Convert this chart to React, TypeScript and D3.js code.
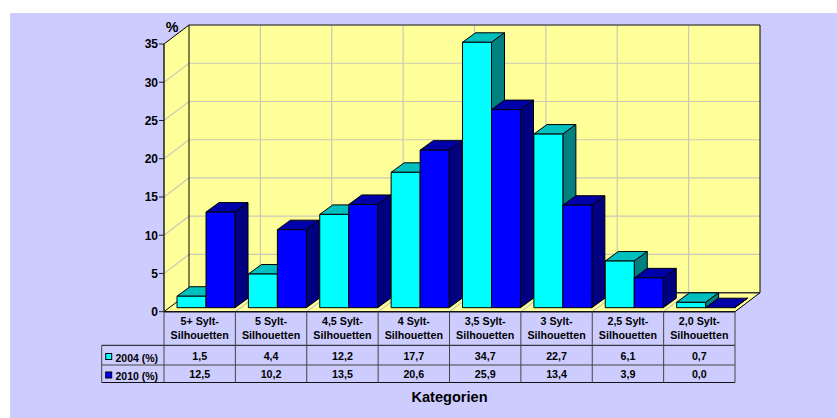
import React from "react";
import * as d3 from "d3";

const categories = ["5+ Sylt-|Silhouetten", "5 Sylt-|Silhouetten", "4,5 Sylt-|Silhouetten", "4 Sylt-|Silhouetten", "3,5 Sylt-|Silhouetten", "3 Sylt-|Silhouetten", "2,5 Sylt-|Silhouetten", "2,0 Sylt-|Silhouetten"];
const values2004 = [1.5, 4.4, 12.2, 17.7, 34.7, 22.7, 6.1, 0.7];
const values2010 = [12.5, 10.2, 13.5, 20.6, 25.9, 13.4, 3.9, 0.0];
const labels2004 = ["1,5", "4,4", "12,2", "17,7", "34,7", "22,7", "6,1", "0,7"];
const labels2010 = ["12,5", "10,2", "13,5", "20,6", "25,9", "13,4", "3,9", "0,0"];
const yTicks = [0, 5, 10, 15, 20, 25, 30, 35];
const seriesNames = ["2004 (%)", "2010 (%)"];

const W = 837, H = 418;
const x = d3.scaleLinear().domain([0, 8]).range([164, 735]);
const y = d3.scaleLinear().domain([0, 35]).range([311.7, 44]);
const DX = 25, DY = -19;
const FONT = "'Liberation Sans', Arial, sans-serif";
const grid = "#c9c9b8";

function Bar({ x0, w, v, front, top, side }: any) {
  const ox = 5, oy = -4, dx = 13, dy = -9.5;
  const l = x0 + ox, r = l + w;
  const b = y(0) + oy, t = y(v) + oy;
  const pts = (a: number[][]) => a.map((p) => p.join(",")).join(" ");
  return (
    <g stroke="#000" strokeWidth={1} strokeLinejoin="round">
      <polygon points={pts([[l, t], [l + dx, t + dy], [r + dx, t + dy], [r, t]])} fill={top} />
      <polygon points={pts([[r, t], [r + dx, t + dy], [r + dx, b + dy], [r, b]])} fill={side} />
      {v > 0 && <rect x={l} y={t} width={w} height={b - t} fill={front} />}
    </g>
  );
}

export default function App() {
  const cw = x(1) - x(0);
  const xEnd = x(8);
  const rows = [345.3, 365, 382.5];
  const legendX = 101.7;
  return (
    <svg width={W} height={H} style={{ position: "absolute", left: 0, top: 0, display: "block" }} fontFamily={FONT} fontWeight="bold" fill="#000">
      <rect x={10} y={13} width={W - 10} height={H - 13} fill="#ccccff" />
      {/* floor & walls */}
      <polygon points={`${x(0) + DX},${y(35) + DY} ${xEnd + DX},${y(35) + DY} ${xEnd + DX},${y(0) + DY} ${x(0) + DX},${y(0) + DY}`} fill="#ffff99" />
      <polygon points={`${x(0)},${y(35)} ${x(0) + DX},${y(35) + DY} ${x(0) + DX},${y(0) + DY} ${x(0)},${y(0)}`} fill="#ffff99" />
      <polygon points={`${x(0)},${y(0)} ${x(0) + DX},${y(0) + DY} ${xEnd + DX},${y(0) + DY} ${xEnd},${y(0)}`} fill="#ffff99" />
      {/* grid */}
      <g stroke={grid} strokeWidth={1.2} fill="none">
        {yTicks.slice(1, -1).map((t) => (
          <polyline key={t} points={`${x(0)},${y(t)} ${x(0) + DX},${y(t) + DY} ${xEnd + DX},${y(t) + DY}`} />
        ))}
        {d3.range(1, 8).map((i) => (
          <polyline key={i} points={`${x(i)},${y(0)} ${x(i) + DX},${y(0) + DY} ${x(i) + DX},${y(35) + DY}`} />
        ))}
      </g>
      {/* frame */}
      <g stroke="#000" fill="none">
        <line x1={x(0) + DX} x2={xEnd + DX} y1={y(35) + DY} y2={y(35) + DY} stroke="#555" strokeWidth={1.5} />
        <line x1={x(0) + DX} x2={xEnd + DX} y1={y(0) + DY} y2={y(0) + DY} stroke="#333" strokeWidth={1.5} />
        <line x1={x(0) + DX} x2={x(0) + DX} y1={y(35) + DY} y2={y(0) + DY} strokeWidth={1} />
        <line x1={x(0)} x2={x(0) + DX} y1={y(35)} y2={y(35) + DY} strokeWidth={1} />
        <line x1={x(0)} x2={x(0) + DX} y1={y(0)} y2={y(0) + DY} strokeWidth={1} />
        <line x1={xEnd + DX} x2={xEnd + DX} y1={y(35) + DY} y2={y(0) + DY} strokeWidth={1} />
        <line x1={xEnd} x2={xEnd + DX} y1={y(0)} y2={y(0) + DY} strokeWidth={1} />
      </g>
      {/* bars */}
      {categories.map((c, i) => (
        <g key={c}>
          <Bar x0={x(i) + 8} w={29} v={values2004[i]} front="#00ffff" top="#00bfbf" side="#008080" />
          <Bar x0={x(i) + 37} w={29} v={values2010[i]} front="#0000ff" top="#0000aa" side="#000080" />
        </g>
      ))}
      {/* y axis */}
      <line x1={x(0)} x2={x(0)} y1={y(35)} y2={y(0)} stroke="#222" strokeWidth={1.5} />
      {yTicks.map((t) => (
        <g key={t}>
          <line x1={x(0) - 5} x2={x(0)} y1={y(t)} y2={y(t)} stroke="#222" strokeWidth={1} />
          <text x={x(0) - 6} y={y(t) + 4.3} textAnchor="end" fontSize={12}>{t}</text>
        </g>
      ))}
      <text x={172} y={32} textAnchor="middle" fontSize={14.3}>%</text>
      {/* table */}
      <g stroke="#111" strokeWidth={1} fill="none">
        <line x1={x(0)} x2={xEnd} y1={y(0)} y2={y(0)} strokeWidth={1.5} />
        <line x1={legendX} x2={xEnd} y1={rows[0]} y2={rows[0]} />
        <line x1={legendX} x2={xEnd} y1={rows[1]} y2={rows[1]} stroke="#444" />
        <line x1={legendX} x2={xEnd} y1={rows[2]} y2={rows[2]} />
        <line x1={legendX} x2={legendX} y1={rows[0]} y2={rows[2]} stroke="#444" />
        {d3.range(0, 9).map((i) => (
          <line key={i} x1={x(i)} x2={x(i)} y1={y(0)} y2={rows[2]} stroke="#444" />
        ))}
      </g>
      {categories.map((c, i) => {
        const [a, b] = c.split("|");
        const cx = x(i) + cw / 2;
        return (
          <g key={c} textAnchor="middle" fontSize={10.7}>
            <text x={cx} y={325.3}>{a}</text>
            <text x={cx} y={339.3}>{b}</text>
            <text x={cx} y={360}>{labels2004[i]}</text>
            <text x={cx} y={378.3}>{labels2010[i]}</text>
          </g>
        );
      })}
      <rect x={105.7} y={353.5} width={6} height={6} fill="#00ffff" stroke="#000" />
      <rect x={105.7} y={372} width={6} height={6} fill="#0000ff" stroke="#000" />
      <text x={115.5} y={361.5} fontSize={10.5}>{seriesNames[0]}</text>
      <text x={115.5} y={380} fontSize={10.5}>{seriesNames[1]}</text>
      <text x={449.5} y={402} textAnchor="middle" fontSize={14.6}>Kategorien</text>
    </svg>
  );
}
